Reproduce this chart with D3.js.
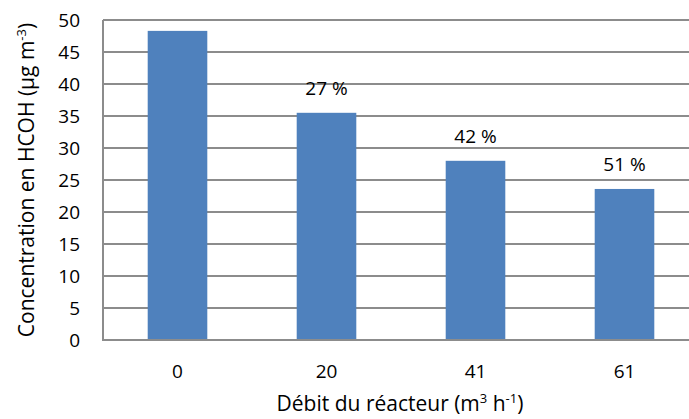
<!DOCTYPE html>
<html>
<head>
  <meta charset="utf-8">
  <script src="https://d3js.org/d3.v7.min.js"></script>
  <style>
    body { margin: 0; background: #fff; }
    text { font-family: "Open Sans", sans-serif; fill: #000; }
  </style>
</head>
<body>
  <svg width="689" height="419"></svg>

  <script>
    // Débit du réacteur (m3 h-1) and concentration in HCOH (µg m-3)
    var categories = ["0", "20", "41", "61"];
    var values = [48.3, 35.5, 28.0, 23.6];
    var reductions = ["", "27 %", "42 %", "51 %"];
    var yTicks = [0, 5, 10, 15, 20, 25, 30, 35, 40, 45, 50];

    var svg = d3.select("svg");
    var margin = { left: 103, top: 20, bottom: 340, right: 699 };

    var x = d3.scaleBand()
      .domain(categories)
      .range([margin.left, margin.right])
      .paddingInner(0.6)
      .paddingOuter(0.3);

    var y = d3.scaleLinear()
      .domain([0, 50])
      .range([margin.bottom, margin.top]);

    // Gridlines
    svg.append("g")
      .selectAll("line")
      .data(yTicks.slice(1))
      .enter()
      .append("line")
      .attr("x1", margin.left)
      .attr("x2", 689)
      .attr("y1", d => y(d))
      .attr("y2", d => y(d))
      .attr("stroke", "#8c8c8c")
      .attr("stroke-width", 2);

    // Bars
    svg.append("g")
      .selectAll("rect")
      .data(values)
      .enter()
      .append("rect")
      .attr("x", (d, i) => x(categories[i]))
      .attr("y", d => y(d))
      .attr("width", x.bandwidth())
      .attr("height", d => y(0) - y(d))
      .attr("fill", "#4f81bd");

    // Axes lines
    svg.append("line")
      .attr("x1", margin.left).attr("x2", margin.left)
      .attr("y1", margin.top).attr("y2", margin.bottom)
      .attr("stroke", "#8c8c8c").attr("stroke-width", 2);
    svg.append("line")
      .attr("x1", margin.left - 1).attr("x2", 689)
      .attr("y1", margin.bottom).attr("y2", margin.bottom)
      .attr("stroke", "#8c8c8c").attr("stroke-width", 2);

    // Y tick labels
    svg.append("g")
      .selectAll("text")
      .data(yTicks)
      .enter()
      .append("text")
      .attr("x", 80)
      .attr("y", d => y(d))
      .attr("dy", "0.35em")
      .attr("text-anchor", "end")
      .style("font-size", "19px")
      .text(d => d);

    // X tick labels
    svg.append("g")
      .selectAll("text")
      .data(categories)
      .enter()
      .append("text")
      .attr("x", d => x(d) + x.bandwidth() / 2)
      .attr("y", 378)
      .attr("text-anchor", "middle")
      .style("font-size", "19px")
      .text(d => d);

    // Reduction labels above bars
    svg.append("g")
      .selectAll("text")
      .data(reductions)
      .enter()
      .append("text")
      .attr("x", (d, i) => x(categories[i]) + x.bandwidth() / 2)
      .attr("y", (d, i) => y(values[i]) - 18)
      .attr("text-anchor", "middle")
      .style("font-size", "19px")
      .text(d => d);

    // Y axis title
    var yt = svg.append("text")
      .attr("transform", "translate(34,180) rotate(-90)")
      .attr("text-anchor", "middle")
      .style("font-size", "21px");
    yt.append("tspan").text("Concentration en HCOH (µg m");
    yt.append("tspan").attr("dy", -8).style("font-size", "13px").text("-3");
    yt.append("tspan").attr("dy", 8).text(")");

    // X axis title
    var xt = svg.append("text")
      .attr("x", 400)
      .attr("y", 411)
      .attr("text-anchor", "middle")
      .style("font-size", "21px");
    xt.append("tspan").text("Débit du réacteur (m");
    xt.append("tspan").attr("dy", -8).style("font-size", "13px").text("3");
    xt.append("tspan").attr("dy", 8).text(" h");
    xt.append("tspan").attr("dy", -8).style("font-size", "13px").text("-1");
    xt.append("tspan").attr("dy", 8).text(")");
  </script>
</body>
</html>
